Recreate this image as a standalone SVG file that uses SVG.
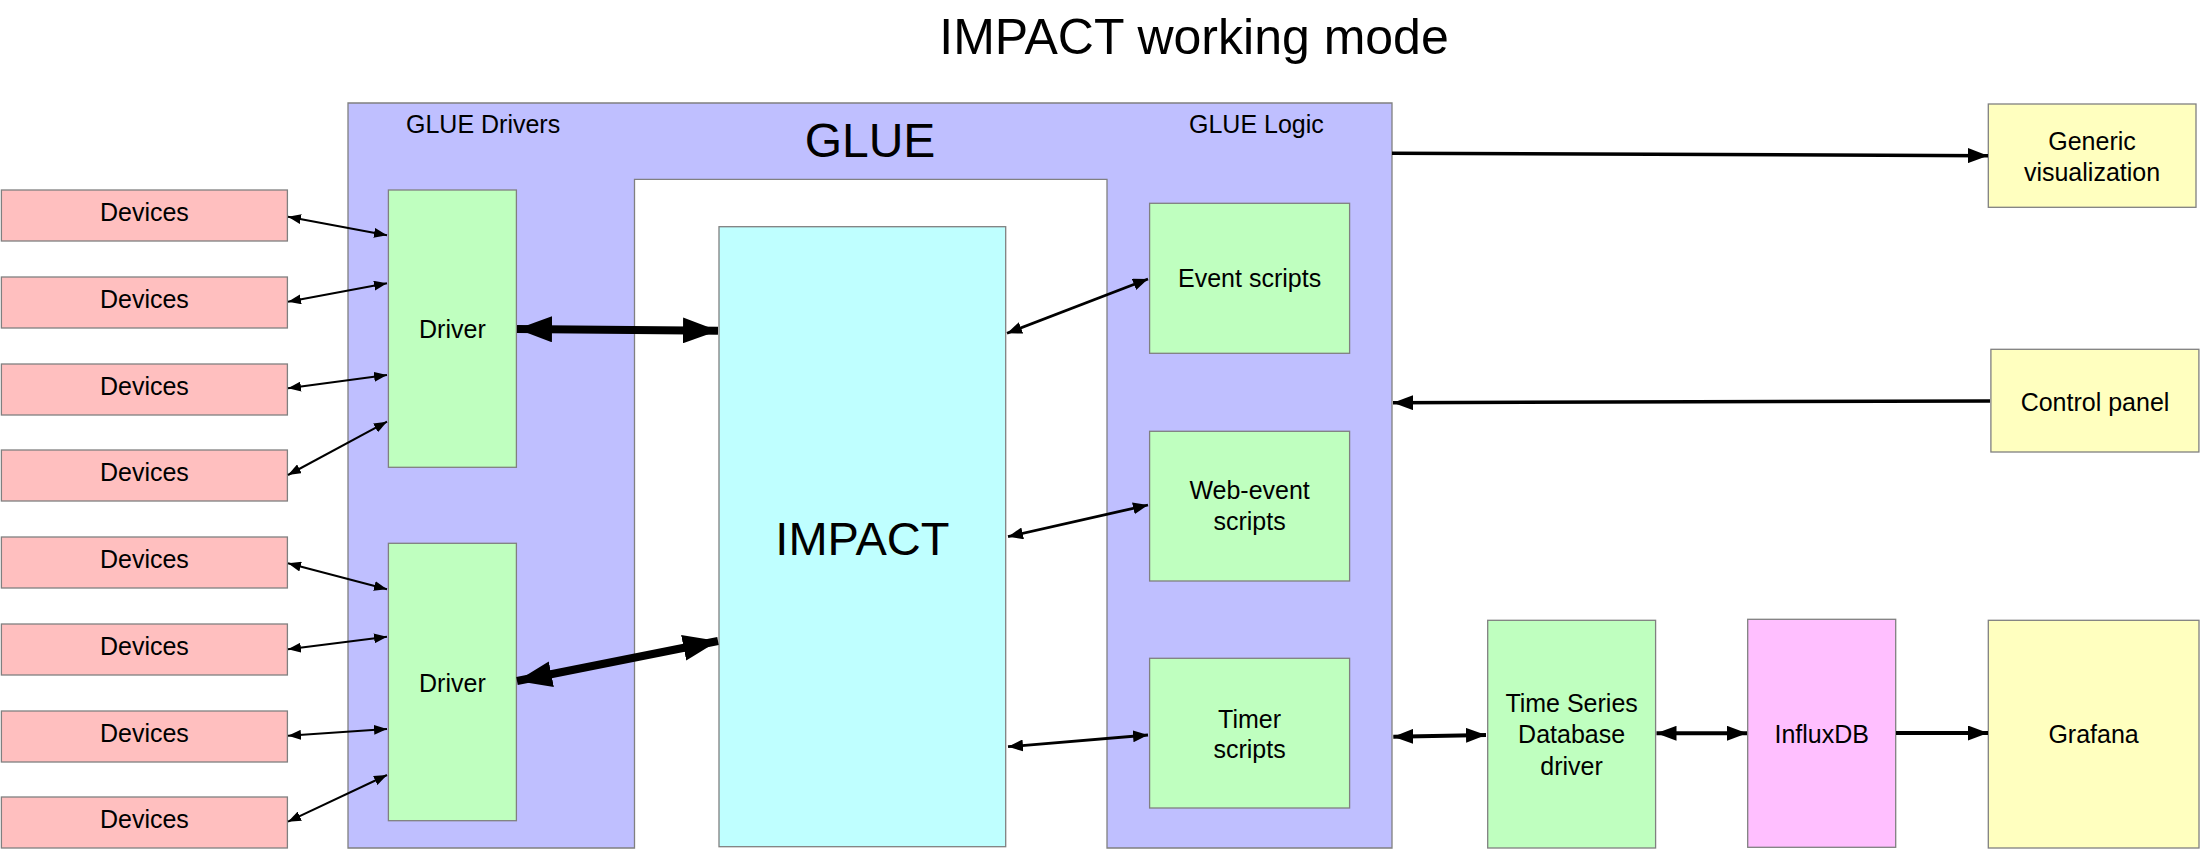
<svg xmlns="http://www.w3.org/2000/svg" width="2200" height="849" viewBox="0 0 2200 849">
<style>
  text { font-family: "Liberation Sans", Arial, Helvetica, sans-serif; fill: #000; }
  .lbl { font-size: 25px; text-anchor: middle; }
  .box { stroke: #808080; stroke-width: 1.3; }
  .dev { fill: #FFBFBF; }
  .grn { fill: #BFFFBF; }
  .cyan { fill: #BFFFFF; }
  .yel { fill: #FFFFBF; }
  .mag { fill: #FFBFFF; }
  .glue { fill: #BFBFFF; stroke: #808080; stroke-width: 1.3; }
  .c-small { stroke: #000; stroke-width: 2; fill: none; marker-start: url(#hs); marker-end: url(#hs); }
  .c-script { stroke: #000; stroke-width: 2.8; fill: none; marker-start: url(#hm); marker-end: url(#hm); }
  .c-thick { stroke: #000; stroke-width: 8; fill: none; marker-start: url(#ht); marker-end: url(#ht); }
  .c-med2 { stroke: #000; stroke-width: 4; fill: none; marker-start: url(#hl); marker-end: url(#hl); }
  .c-med1 { stroke: #000; stroke-width: 3.5; fill: none; marker-end: url(#hl); }
</style>
<defs>
  <marker id="hs" viewBox="0 0 13 10" refX="13" refY="5" markerWidth="13" markerHeight="10" markerUnits="userSpaceOnUse" orient="auto-start-reverse">
    <path d="M0,0 L13,5 L0,10 z" fill="#000"/>
  </marker>
  <marker id="hm" viewBox="0 0 15 12" refX="15" refY="6" markerWidth="15" markerHeight="12" markerUnits="userSpaceOnUse" orient="auto-start-reverse">
    <path d="M0,0 L15,6 L0,12 z" fill="#000"/>
  </marker>
  <marker id="ht" viewBox="0 0 35 26" refX="35" refY="13" markerWidth="35" markerHeight="26" markerUnits="userSpaceOnUse" orient="auto-start-reverse">
    <path d="M0,0 L35,13 L0,26 z" fill="#000"/>
  </marker>
  <marker id="hl" viewBox="0 0 20 15" refX="20" refY="7.5" markerWidth="20" markerHeight="15" markerUnits="userSpaceOnUse" orient="auto-start-reverse">
    <path d="M0,0 L20,7.5 L0,15 z" fill="#000"/>
  </marker>
</defs>
<rect width="2200" height="849" fill="#fff"/>

<text x="1194" y="54" style="font-size:50px;text-anchor:middle">IMPACT working mode</text>

<g id="glue">
  <path class="glue" d="M348,103 L1392,103 L1392,848 L1107,848 L1107,179.3 L634.5,179.3 L634.5,848 L348,848 Z"/>
  <text x="870" y="156.7" style="font-size:48px;text-anchor:middle">GLUE</text>
  <text x="406" y="133" style="font-size:25px">GLUE Drivers</text>
  <text x="1189" y="133" style="font-size:25px">GLUE Logic</text>
</g>

<g id="devices1"><rect class="box dev" x="1.4" y="190" width="286" height="51"/><text class="lbl" x="144.4" y="220.7">Devices</text></g>
<g id="devices2"><rect class="box dev" x="1.4" y="277" width="286" height="51"/><text class="lbl" x="144.4" y="307.7">Devices</text></g>
<g id="devices3"><rect class="box dev" x="1.4" y="364" width="286" height="51"/><text class="lbl" x="144.4" y="394.7">Devices</text></g>
<g id="devices4"><rect class="box dev" x="1.4" y="450" width="286" height="51"/><text class="lbl" x="144.4" y="480.7">Devices</text></g>
<g id="devices5"><rect class="box dev" x="1.4" y="537" width="286" height="51"/><text class="lbl" x="144.4" y="567.7">Devices</text></g>
<g id="devices6"><rect class="box dev" x="1.4" y="624" width="286" height="51"/><text class="lbl" x="144.4" y="654.7">Devices</text></g>
<g id="devices7"><rect class="box dev" x="1.4" y="711" width="286" height="51"/><text class="lbl" x="144.4" y="741.7">Devices</text></g>
<g id="devices8"><rect class="box dev" x="1.4" y="797" width="286" height="51"/><text class="lbl" x="144.4" y="827.7">Devices</text></g>

<g id="driver1"><rect class="box grn" x="388.4" y="190" width="128" height="277.3"/><text class="lbl" x="452.4" y="337.5">Driver</text></g>
<g id="driver2"><rect class="box grn" x="388.4" y="543.3" width="128" height="277.4"/><text class="lbl" x="452.4" y="691.5">Driver</text></g>

<g id="impact"><rect class="box cyan" x="719" y="226.7" width="286.7" height="620"/><text x="862.4" y="555" style="font-size:47px;text-anchor:middle">IMPACT</text></g>

<g id="event-scripts"><rect class="box grn" x="1149.6" y="203.3" width="200" height="150"/><text class="lbl" x="1249.6" y="287.3">Event scripts</text></g>
<g id="web-event-scripts"><rect class="box grn" x="1149.6" y="431.3" width="200" height="149.7"/><text class="lbl" x="1249.6" y="499.3">Web-event</text><text class="lbl" x="1249.6" y="530">scripts</text></g>
<g id="timer-scripts"><rect class="box grn" x="1149.6" y="658.3" width="200" height="149.7"/><text class="lbl" x="1249.6" y="727.7">Timer</text><text class="lbl" x="1249.6" y="757.9">scripts</text></g>

<g id="generic-visualization"><rect class="box yel" x="1988.3" y="104" width="207.7" height="103.3"/><text class="lbl" x="2092" y="150">Generic</text><text class="lbl" x="2092" y="180.7">visualization</text></g>
<g id="control-panel"><rect class="box yel" x="1990.9" y="349.3" width="208" height="102.7"/><text class="lbl" x="2095" y="410.5">Control panel</text></g>
<g id="tsdb-driver"><rect class="box grn" x="1487.7" y="620.3" width="167.9" height="227.7"/><text class="lbl" x="1571.6" y="711.7">Time Series</text><text class="lbl" x="1571.6" y="743.3">Database</text><text class="lbl" x="1571.6" y="775">driver</text></g>
<g id="influxdb"><rect class="box mag" x="1747.7" y="619.3" width="148" height="228"/><text class="lbl" x="1821.7" y="742.7">InfluxDB</text></g>
<g id="grafana"><rect class="box yel" x="1988.3" y="620.3" width="210.7" height="227.7"/><text class="lbl" x="2093.6" y="742.7">Grafana</text></g>

<g id="connectors">
  <line class="c-small" x1="288" y1="216.7" x2="387" y2="235.3"/>
  <line class="c-small" x1="288" y1="301.7" x2="387" y2="283.3"/>
  <line class="c-small" x1="288" y1="388.3" x2="387" y2="375"/>
  <line class="c-small" x1="288" y1="475" x2="387" y2="421.7"/>
  <line class="c-small" x1="288" y1="563.3" x2="387" y2="589.3"/>
  <line class="c-small" x1="288" y1="649.3" x2="387" y2="636.7"/>
  <line class="c-small" x1="288" y1="735.7" x2="387" y2="729"/>
  <line class="c-small" x1="288" y1="821.7" x2="387" y2="775"/>
  <line class="c-thick" x1="517" y1="329" x2="718" y2="330.7"/>
  <line class="c-thick" x1="517" y1="681" x2="718" y2="641"/>
  <line class="c-script" x1="1007" y1="333.3" x2="1148" y2="279"/>
  <line class="c-script" x1="1008" y1="536.7" x2="1148" y2="505"/>
  <line class="c-script" x1="1008" y1="746.7" x2="1148" y2="735"/>
  <line class="c-med1" x1="1392" y1="153.3" x2="1988" y2="155.7"/>
  <line class="c-med1" x1="1990" y1="401" x2="1393" y2="402.7"/>
  <line class="c-med2" x1="1393.3" y1="736.7" x2="1486" y2="735"/>
  <line class="c-med2" x1="1656.5" y1="733.3" x2="1747" y2="733.3"/>
  <line class="c-med1" x1="1896" y1="733" x2="1988" y2="733" style="stroke-width:4"/>
</g>
</svg>
